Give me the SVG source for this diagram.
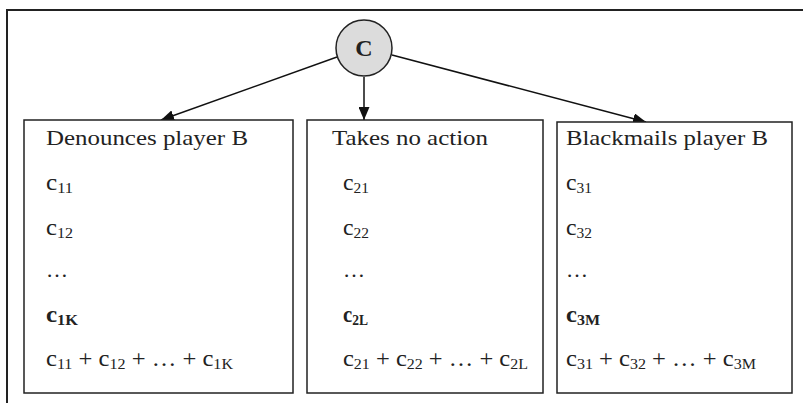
<svg xmlns="http://www.w3.org/2000/svg" width="803" height="403" viewBox="0 0 803 403">
<defs>
<marker id="ah" viewBox="0 0 13 11" refX="13" refY="5.5" markerWidth="13" markerHeight="11" markerUnits="userSpaceOnUse" orient="auto">
<path d="M0,0 L13,5.5 L0,11 Z" fill="#111"/>
</marker>
</defs>
<style>
.frame{fill:none;stroke:#222;stroke-width:2}
.box{fill:#fff;stroke:#222;stroke-width:1.5}
.t{font-family:"Liberation Serif","Times New Roman",serif;fill:#222}
.title{font-size:21px}
.v{font-size:23px}
.s{font-size:15px}
.b{font-weight:bold}
.edge{stroke:#111;stroke-width:1.5;fill:none;marker-end:url(#ah)}
</style>
<rect width="803" height="403" fill="#fff"/>
<path class="frame" d="M7,410 L7,10 L810,10"/>
<g id="edges">
<line class="edge" x1="337" y1="57" x2="161" y2="120"/>
<line class="edge" x1="364" y1="77" x2="364" y2="120"/>
<line class="edge" x1="392" y1="55" x2="646" y2="122"/>
</g>
<g id="nodeC">
<circle cx="364" cy="48" r="28" fill="#dcdcdc" stroke="#222" stroke-width="1.5"/>
<text class="t b" x="364" y="56" font-size="24" text-anchor="middle">C</text>
</g>
<g id="box1">
<rect class="box" x="24" y="120" width="269" height="273"/>
<text class="t title" x="46" y="145" textLength="202" lengthAdjust="spacingAndGlyphs">Denounces player B</text>
<text class="t v" x="46" y="190" textLength="27" lengthAdjust="spacingAndGlyphs">c<tspan class="s" dy="3">11</tspan></text>
<text class="t v" x="46" y="235" textLength="27" lengthAdjust="spacingAndGlyphs">c<tspan class="s" dy="3">12</tspan></text>
<text class="t title" x="46" y="277" textLength="22" lengthAdjust="spacingAndGlyphs">…</text>
<text class="t v b" x="46" y="322" textLength="32" lengthAdjust="spacingAndGlyphs">c<tspan class="s" dy="3">1K</tspan></text>
<text class="t v" x="46" y="366" textLength="187" lengthAdjust="spacingAndGlyphs">c<tspan class="s" dy="3">11</tspan><tspan dy="-3"> + c</tspan><tspan class="s" dy="3">12</tspan><tspan dy="-3"> + … + c</tspan><tspan class="s" dy="3">1K</tspan></text>
</g>
<g id="box2">
<rect class="box" x="307" y="120" width="236" height="273"/>
<text class="t title" x="332" y="145" textLength="156" lengthAdjust="spacingAndGlyphs">Takes no action</text>
<text class="t v" x="343" y="190" textLength="26" lengthAdjust="spacingAndGlyphs">c<tspan class="s" dy="3">21</tspan></text>
<text class="t v" x="343" y="235" textLength="26" lengthAdjust="spacingAndGlyphs">c<tspan class="s" dy="3">22</tspan></text>
<text class="t title" x="343" y="277" textLength="22" lengthAdjust="spacingAndGlyphs">…</text>
<text class="t v b" x="343" y="322" textLength="25" lengthAdjust="spacingAndGlyphs">c<tspan class="s" dy="3">2L</tspan></text>
<text class="t v" x="343" y="366" textLength="185" lengthAdjust="spacingAndGlyphs">c<tspan class="s" dy="3">21</tspan><tspan dy="-3"> + c</tspan><tspan class="s" dy="3">22</tspan><tspan dy="-3"> + … + c</tspan><tspan class="s" dy="3">2L</tspan></text>
</g>
<g id="box3">
<rect class="box" x="557" y="122" width="235" height="271"/>
<text class="t title" x="566" y="145" textLength="202" lengthAdjust="spacingAndGlyphs">Blackmails player B</text>
<text class="t v" x="566" y="190" textLength="26" lengthAdjust="spacingAndGlyphs">c<tspan class="s" dy="3">31</tspan></text>
<text class="t v" x="566" y="235" textLength="26" lengthAdjust="spacingAndGlyphs">c<tspan class="s" dy="3">32</tspan></text>
<text class="t title" x="566" y="277" textLength="22" lengthAdjust="spacingAndGlyphs">…</text>
<text class="t v b" x="566" y="322" textLength="34" lengthAdjust="spacingAndGlyphs">c<tspan class="s" dy="3">3M</tspan></text>
<text class="t v" x="566" y="366" textLength="190" lengthAdjust="spacingAndGlyphs">c<tspan class="s" dy="3">31</tspan><tspan dy="-3"> + c</tspan><tspan class="s" dy="3">32</tspan><tspan dy="-3"> + … + c</tspan><tspan class="s" dy="3">3M</tspan></text>
</g>
</svg>
